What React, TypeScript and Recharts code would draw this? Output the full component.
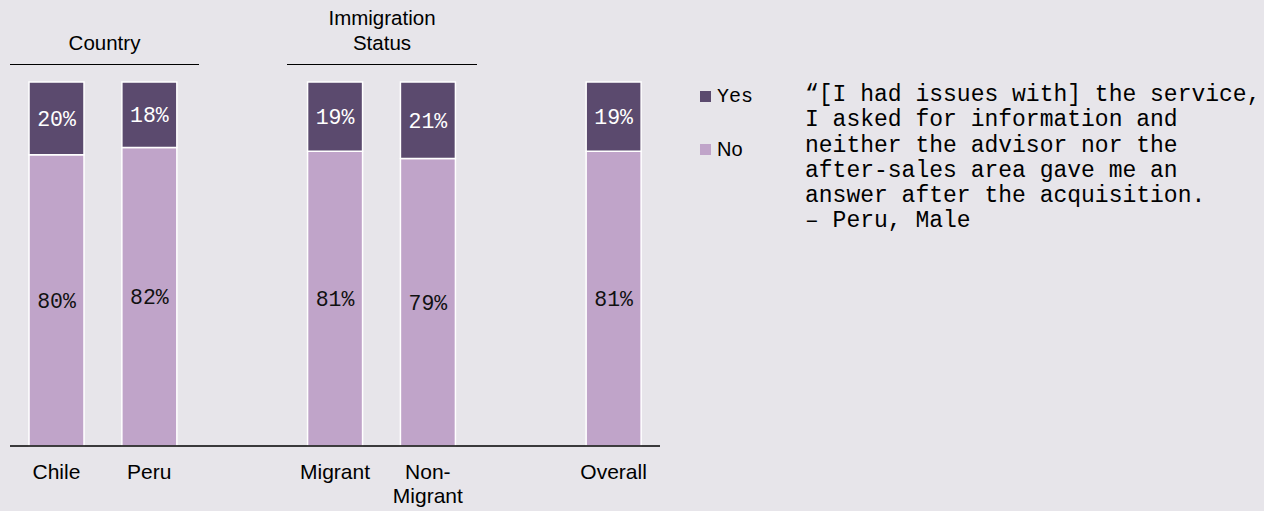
import React from "react";
import { BarChart, Bar, XAxis, YAxis, LabelList } from "recharts";

const categories = ["Chile", "Peru", "", "Migrant", "Non-Migrant", " ", "Overall"];
const noValues = [80, 82, null, 81, 79, null, 81];
const yesValues = [20, 18, null, 19, 21, null, 19];

const data = categories.map((name, i) => ({ name, no: noValues[i], yes: yesValues[i] }));

const BG = "#e7e5ea";
const YES = "#5b4a6e";
const NO = "#c0a4c9";
const MONO = "'Liberation Mono', monospace";
const SANS = "'Liberation Sans', Arial, sans-serif";

const quote = [
  "“[I had issues with] the service,",
  "I asked for information and",
  "neither the advisor nor the",
  "after-sales area gave me an",
  "answer after the acquisition.",
  "– Peru, Male",
];

function Tick(props: any) {
  const { x, y, payload } = props;
  const v: string = payload.value;
  const lines = v === "Non-Migrant" ? ["Non-", "Migrant"] : [v.trim()];
  return (
    <text x={x} y={y} textAnchor="middle" fontFamily={SANS} fontSize={21} fill="#000">
      {lines.map((l, i) => (
        <tspan key={i} x={x} dy={i === 0 ? 25 : 24}>
          {l}
        </tspan>
      ))}
    </text>
  );
}

const fmt = (v: any) => (v == null ? "" : `${v}%`);

export default function App() {
  return (
    <div style={{ position: "absolute", left: 0, top: 0, width: 1264, height: 511, background: BG, overflow: "hidden" }}>
      <BarChart
        width={670}
        height={511}
        data={data}
        margin={{ top: 82, right: 10, left: 10, bottom: 5 }}
        barSize={55}
      >
        <XAxis
          dataKey="name"
          axisLine={{ stroke: "#000", strokeWidth: 1.5 }}
          tickLine={false}
          tick={<Tick />}
          interval={0}
          height={60}
        />
        <YAxis hide domain={[0, 100]} />
        <Bar dataKey="no" stackId="a" fill={NO} stroke="#fff" strokeWidth={1.5} isAnimationActive={false}>
          <LabelList dataKey="no" position="center" formatter={fmt} fill="#111" fontFamily={MONO} fontSize={21.5} />
        </Bar>
        <Bar dataKey="yes" stackId="a" fill={YES} stroke="#fff" strokeWidth={1.5} isAnimationActive={false}>
          <LabelList dataKey="yes" position="center" formatter={fmt} fill="#fff" fontFamily={MONO} fontSize={21.5} />
        </Bar>
      </BarChart>

      {/* group headers */}
      <div style={{ position: "absolute", left: 10, top: 30, width: 189, textAlign: "center", fontFamily: SANS, fontSize: 20.5, lineHeight: "25px", color: "#000" }}>
        Country
      </div>
      <div style={{ position: "absolute", left: 10, top: 64, width: 189, borderTop: "1.5px solid #000" }} />
      <div style={{ position: "absolute", left: 287, top: 5, width: 190, textAlign: "center", fontFamily: SANS, fontSize: 20.5, lineHeight: "25px", color: "#000" }}>
        Immigration
        <br />
        Status
      </div>
      <div style={{ position: "absolute", left: 287, top: 64, width: 190, borderTop: "1.5px solid #000" }} />

      {/* legend */}
      <div style={{ position: "absolute", left: 700, top: 84, fontFamily: MONO, fontSize: 20, color: "#000" }}>
        <div style={{ display: "flex", alignItems: "center", height: 24 }}>
          <span style={{ width: 11, height: 11, background: YES, display: "inline-block", marginRight: 6 }} />
          Yes
        </div>
        <div style={{ display: "flex", alignItems: "center", height: 24, marginTop: 29 }}>
          <span style={{ width: 11, height: 11, background: NO, display: "inline-block", marginRight: 6 }} />
          <span style={{ fontFamily: SANS }}>No</span>
        </div>
      </div>

      {/* quote */}
      <div style={{ position: "absolute", left: 805, top: 83, fontFamily: MONO, fontSize: 23, lineHeight: "25.3px", color: "#000", whiteSpace: "pre" }}>
        {quote.map((l, i) => (
          <div key={i}>{l}</div>
        ))}
      </div>
    </div>
  );
}
